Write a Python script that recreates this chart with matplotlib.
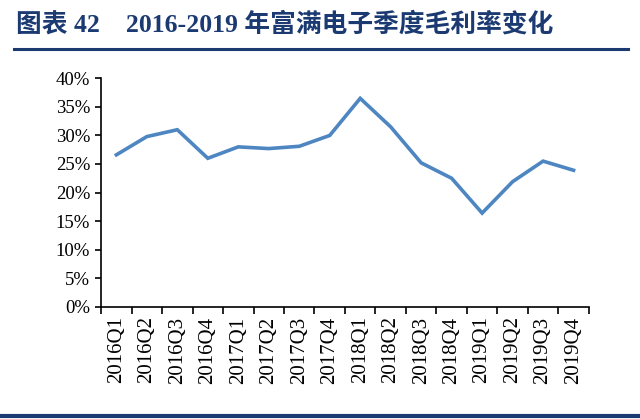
import matplotlib
matplotlib.use("Agg")
import matplotlib.pyplot as plt
from matplotlib.lines import Line2D
from matplotlib.ticker import FuncFormatter

quarters = ["2016Q1", "2016Q2", "2016Q3", "2016Q4",
            "2017Q1", "2017Q2", "2017Q3", "2017Q4",
            "2018Q1", "2018Q2", "2018Q3", "2018Q4",
            "2019Q1", "2019Q2", "2019Q3", "2019Q4"]
gross_margin = [26.6, 29.8, 31.0, 26.0,
                28.0, 27.7, 28.1, 30.0,
                36.5, 31.5, 25.2, 22.5,
                16.4, 21.9, 25.5, 23.9]
y_ticks = [0, 5, 10, 15, 20, 25, 30, 35, 40]

title_text = "图表 42    2016-2019 年富满电子季度毛利率变化"
navy = "#1b3a72"

fig = plt.figure(figsize=(6.4, 4.19), dpi=100)
ax = fig.add_axes([0.158, 0.268, 0.762, 0.545])

x = list(range(len(quarters)))
ax.plot(x, gross_margin, color="#4e86c2", linewidth=2.6, solid_joinstyle="miter")

ax.set_xlim(-0.5, len(quarters) - 0.5)
ax.set_ylim(0, 40)
ax.set_yticks(y_ticks)
ax.yaxis.set_major_formatter(FuncFormatter(lambda v, p: f"{v:.0f}%"))

# tick marks between categories, labels at centres
ax.set_xticks([i - 0.5 for i in range(len(quarters) + 1)])
ax.set_xticklabels([])
ax.set_xticks(x, minor=True)
ax.set_xticklabels(quarters, minor=True, rotation=90)
ax.tick_params(axis="x", which="minor", length=0, pad=7)
ax.tick_params(axis="x", which="major", length=5, width=1.2, direction="out")
ax.tick_params(axis="y", length=4, width=1.2, direction="out", pad=4)

for lab in ax.get_xticklabels(minor=True):
    lab.set_family("Liberation Serif")
    lab.set_fontsize(15)
for lab in ax.get_yticklabels():
    lab.set_family("Liberation Serif")
    lab.set_fontsize(13.5)

for side in ["top", "right"]:
    ax.spines[side].set_visible(False)
for side in ["left", "bottom"]:
    ax.spines[side].set_linewidth(1.2)
    ax.spines[side].set_color("black")

fig.text(0.025, 0.925, title_text, fontsize=18.5, fontweight="bold", color=navy,
         family=["Liberation Serif", "Noto Sans CJK SC"], va="baseline")

fig.add_artist(Line2D([0.022, 0.982], [0.884, 0.884], color=navy, linewidth=2.2,
                      transform=fig.transFigure))
fig.add_artist(Line2D([0.0, 1.0], [0.006, 0.006], color=navy, linewidth=3,
                      transform=fig.transFigure))

fig.savefig("out.png", dpi=100)
